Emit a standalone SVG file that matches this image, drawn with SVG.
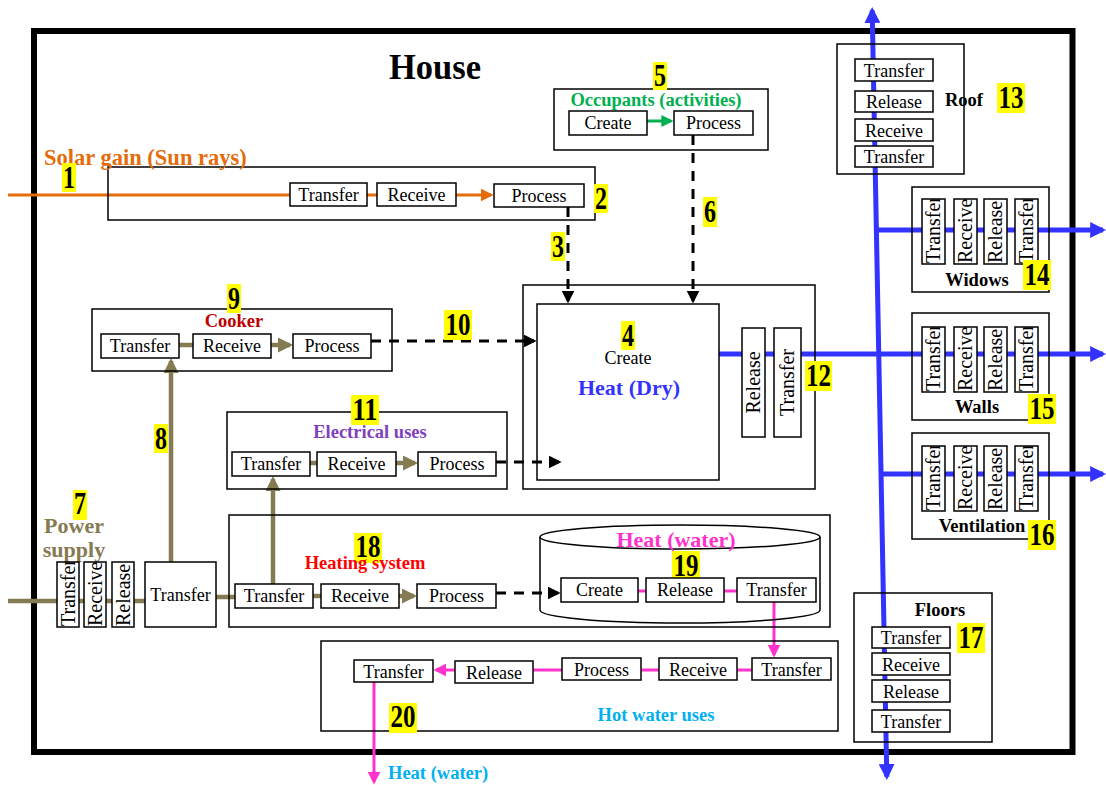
<svg xmlns="http://www.w3.org/2000/svg" width="1106" height="785" viewBox="0 0 1106 785">
  <style>
    text { font-family: "Liberation Serif", "DejaVu Serif", "Times New Roman", serif; }
    .lbl { font-family: "Liberation Serif", "DejaVu Serif", serif; font-size: 18px; text-anchor: middle; fill: #000; }
    .vl { font-family: "Liberation Serif", "DejaVu Serif", serif; font-size: 20px; fill: #000; }
    .hd { font-size: 18.5px; font-weight: bold; text-anchor: middle; }
    .n { font-size: 31px; font-weight: bold; text-anchor: middle; fill: #000; }
    .hl { fill: #ffff00; }
    .bx { fill: #fff; stroke: #000; stroke-width: 1.5; }
    .grp { fill: none; stroke: #000; stroke-width: 1.5; }
    .orange { stroke: #E46C0A; stroke-width: 3; fill: none; }
    .green { stroke: #00B050; stroke-width: 3; fill: none; }
    .olive { stroke: #857B52; stroke-width: 4.5; fill: none; }
    .dash { stroke: #000; stroke-width: 3; fill: none; stroke-dasharray: 10 8; }
    .blue { stroke: #3333FF; stroke-width: 5; fill: none; }
    .mag { stroke: #FF33CC; stroke-width: 3; fill: none; }
  </style>
  <defs>
    <marker id="a-orange" viewBox="0 0 10 10" refX="8" refY="5" markerWidth="13" markerHeight="13" markerUnits="userSpaceOnUse" orient="auto"><path d="M0,0L10,5L0,10z" fill="#E46C0A"/></marker>
    <marker id="a-green" viewBox="0 0 10 10" refX="8" refY="5" markerWidth="12" markerHeight="12" markerUnits="userSpaceOnUse" orient="auto"><path d="M0,0L10,5L0,10z" fill="#00B050"/></marker>
    <marker id="a-olive" viewBox="0 0 10 10" refX="8" refY="5" markerWidth="15" markerHeight="15" markerUnits="userSpaceOnUse" orient="auto"><path d="M0,0L10,5L0,10z" fill="#857B52"/></marker>
    <marker id="a-black" viewBox="0 0 10 10" refX="8" refY="5" markerWidth="13" markerHeight="13" markerUnits="userSpaceOnUse" orient="auto"><path d="M0,0L10,5L0,10z" fill="#000"/></marker>
    <marker id="a-blue" viewBox="0 0 10 10" refX="8" refY="5" markerWidth="16" markerHeight="16" markerUnits="userSpaceOnUse" orient="auto-start-reverse"><path d="M0,0L10,5L0,10z" fill="#3333FF"/></marker>
    <marker id="a-mag" viewBox="0 0 10 10" refX="8" refY="5" markerWidth="13" markerHeight="13" markerUnits="userSpaceOnUse" orient="auto"><path d="M0,0L10,5L0,10z" fill="#FF33CC"/></marker>
  </defs>

  <rect width="1106" height="785" fill="#fff"/>

  <!-- house outline and title -->
  <g id="house">
    <rect x="34" y="31" width="1038.5" height="721" fill="none" stroke="#000" stroke-width="6"/>
    <text x="435" y="79" font-size="36" font-weight="bold" text-anchor="middle" textLength="92" lengthAdjust="spacingAndGlyphs">House</text>
  </g>

  <!-- flows -->
  <g id="connectors">
    <!-- solar gain -->
    <path class="orange" d="M8,195H491" marker-end="url(#a-orange)"/>
    <!-- occupants -->
    <path class="green" d="M647,121H671" marker-end="url(#a-green)"/>
    <!-- power supply -->
    <path class="olive" d="M8,601H145"/>
    <path class="olive" d="M216,597H235"/>
    <path class="olive" d="M171,562V361" marker-end="url(#a-olive)"/>
    <path class="olive" d="M179,345H193"/>
    <path class="olive" d="M271,345H290" marker-end="url(#a-olive)"/>
    <path class="olive" d="M273,584V479" marker-end="url(#a-olive)"/>
    <path class="olive" d="M310,463H317"/>
    <path class="olive" d="M396,463H415" marker-end="url(#a-olive)"/>
    <path class="olive" d="M313,596H321"/>
    <path class="olive" d="M399,596H414" marker-end="url(#a-olive)"/>
    <!-- heat gains -->
    <path class="dash" d="M568,207V301" marker-end="url(#a-black)"/>
    <path class="dash" d="M693,135V301" marker-end="url(#a-black)"/>
    <path class="dash" d="M371,341H534" marker-end="url(#a-black)"/>
    <path class="dash" d="M496,462H559" marker-end="url(#a-black)"/>
    <path class="dash" d="M496,593H558" marker-end="url(#a-black)"/>
    <!-- dry heat losses -->
    <path class="blue" d="M872.2,10.2L886.8,776.8" marker-start="url(#a-blue)" marker-end="url(#a-blue)"/>
    <path class="blue" d="M719,354H1103" marker-end="url(#a-blue)"/>
    <path class="blue" d="M876,230H1103" marker-end="url(#a-blue)"/>
    <path class="blue" d="M881,474H1103" marker-end="url(#a-blue)"/>
    <!-- hot water -->
    <path class="mag" d="M638,591H646"/>
    <path class="mag" d="M724,591H737"/>
    <path class="mag" d="M774,602V655" marker-end="url(#a-mag)"/>
    <path class="mag" d="M752,670H436" marker-end="url(#a-mag)"/>
    <path class="mag" d="M374,682V782" marker-end="url(#a-mag)"/>
  </g>

  <!-- 1: solar gain -->
  <g id="solar">
    <rect class="grp" x="108" y="167" width="487" height="53"/>
    <text x="44" y="165" font-size="22.5" font-weight="bold" fill="#E46C0A">Solar gain (Sun rays)</text>
    <rect class="hl" x="62" y="163" width="14" height="29"/>
    <text class="n" x="69" y="188" textLength="12" lengthAdjust="spacingAndGlyphs">1</text>
    <rect class="bx" x="290" y="183" width="77" height="23"/>
    <text class="lbl" x="328.5" y="200.5">Transfer</text>
    <rect class="bx" x="377" y="183" width="79" height="23"/>
    <text class="lbl" x="416.5" y="200.5">Receive</text>
    <rect class="bx" x="494" y="184" width="90" height="23"/>
    <text class="lbl" x="539" y="201.5">Process</text>
    <rect class="hl" x="594" y="184" width="14" height="29"/>
    <text class="n" x="601" y="209" textLength="12" lengthAdjust="spacingAndGlyphs">2</text>
    <rect class="hl" x="551" y="232" width="14" height="29"/>
    <text class="n" x="558" y="257" textLength="12" lengthAdjust="spacingAndGlyphs">3</text>
  </g>

  <!-- 5: occupants -->
  <g id="occupants">
    <rect class="grp" x="554" y="89" width="214" height="61"/>
    <text class="hd" x="656" y="106" font-size="18" fill="#00B050">Occupants (activities)</text>
    <rect class="hl" x="653" y="62" width="14" height="28"/>
    <text class="n" x="660" y="86" textLength="12" lengthAdjust="spacingAndGlyphs">5</text>
    <rect class="bx" x="569" y="111" width="78" height="24"/>
    <text class="lbl" x="608" y="129">Create</text>
    <rect class="bx" x="674" y="111" width="79" height="24"/>
    <text class="lbl" x="713.5" y="129">Process</text>
    <rect class="hl" x="703" y="197" width="14" height="30"/>
    <text class="n" x="710" y="222" textLength="12" lengthAdjust="spacingAndGlyphs">6</text>
  </g>

  <!-- 4: dry heat -->
  <g id="heat-dry">
    <rect class="grp" x="523" y="285" width="292" height="204"/>
    <rect class="grp" x="537" y="304" width="182" height="176"/>
    <rect class="hl" x="621" y="321" width="14" height="29"/>
    <text class="n" x="628" y="346" textLength="12" lengthAdjust="spacingAndGlyphs">4</text>
    <text class="lbl" x="628" y="364">Create</text>
    <text x="629" y="395" font-size="22" font-weight="bold" text-anchor="middle" fill="#3333FF">Heat (Dry)</text>
    <rect class="bx" x="742" y="328" width="23" height="109"/>
    <text class="vl" text-anchor="middle" font-size="19" transform="translate(760,382.5) rotate(-90)">Release</text>
    <rect class="bx" x="774" y="328" width="27" height="109"/>
    <text class="vl" text-anchor="middle" font-size="19" transform="translate(794,382.5) rotate(-90)">Transfer</text>
    <rect class="hl" x="805" y="361" width="27" height="30"/>
    <text class="n" x="818.5" y="386" textLength="25" lengthAdjust="spacingAndGlyphs">12</text>
  </g>

  <!-- 13: roof -->
  <g id="roof">
    <rect class="grp" x="837" y="44" width="127" height="130"/>
    <rect class="bx" x="855" y="59" width="78" height="22"/>
    <text class="lbl" x="894" y="76.5">Transfer</text>
    <rect class="bx" x="855" y="91" width="78" height="21"/>
    <text class="lbl" x="894" y="108">Release</text>
    <rect class="bx" x="855" y="119" width="78" height="22"/>
    <text class="lbl" x="894" y="136.5">Receive</text>
    <rect class="bx" x="855" y="146" width="78" height="21"/>
    <text class="lbl" x="894" y="163">Transfer</text>
    <text class="hd" x="964" y="106">Roof</text>
    <rect class="hl" x="997" y="83" width="28" height="30"/>
    <text class="n" x="1011" y="108" textLength="25" lengthAdjust="spacingAndGlyphs">13</text>
  </g>

  <!-- 14: windows -->
  <g id="widows">
    <rect class="grp" x="912" y="187" width="137" height="105"/>
    <rect class="bx" x="922" y="199" width="23" height="65"/>
    <svg x="922" y="199" width="23" height="65"><text class="vl" transform="translate(18,64) rotate(-90)">Transfer</text></svg>
    <rect class="bx" x="954" y="199" width="23" height="65"/>
    <svg x="954" y="199" width="23" height="65"><text class="vl" transform="translate(18,64) rotate(-90)">Receive</text></svg>
    <rect class="bx" x="984" y="199" width="23" height="65"/>
    <svg x="984" y="199" width="23" height="65"><text class="vl" transform="translate(18,64) rotate(-90)">Release</text></svg>
    <rect class="bx" x="1015" y="199" width="23" height="65"/>
    <svg x="1015" y="199" width="23" height="65"><text class="vl" transform="translate(18,64) rotate(-90)">Transfer</text></svg>
    <text class="hd" x="977" y="286">Widows</text>
    <rect class="hl" x="1023" y="260" width="28" height="30"/>
    <text class="n" x="1037" y="285" textLength="25" lengthAdjust="spacingAndGlyphs">14</text>
  </g>

  <!-- 15: walls -->
  <g id="walls">
    <rect class="grp" x="912" y="313" width="137" height="107"/>
    <rect class="bx" x="922" y="327" width="23" height="65"/>
    <svg x="922" y="327" width="23" height="65"><text class="vl" transform="translate(18,64) rotate(-90)">Transfer</text></svg>
    <rect class="bx" x="954" y="327" width="23" height="65"/>
    <svg x="954" y="327" width="23" height="65"><text class="vl" transform="translate(18,64) rotate(-90)">Receive</text></svg>
    <rect class="bx" x="984" y="327" width="23" height="65"/>
    <svg x="984" y="327" width="23" height="65"><text class="vl" transform="translate(18,64) rotate(-90)">Release</text></svg>
    <rect class="bx" x="1015" y="327" width="23" height="65"/>
    <svg x="1015" y="327" width="23" height="65"><text class="vl" transform="translate(18,64) rotate(-90)">Transfer</text></svg>
    <text class="hd" x="977" y="413">Walls</text>
    <rect class="hl" x="1028" y="394" width="28" height="30"/>
    <text class="n" x="1042" y="419" textLength="25" lengthAdjust="spacingAndGlyphs">15</text>
  </g>

  <!-- 16: ventilation -->
  <g id="ventilation">
    <rect class="grp" x="912" y="433" width="137" height="106"/>
    <rect class="bx" x="922" y="446" width="23" height="65"/>
    <svg x="922" y="446" width="23" height="65"><text class="vl" transform="translate(18,64) rotate(-90)">Transfer</text></svg>
    <rect class="bx" x="954" y="446" width="23" height="65"/>
    <svg x="954" y="446" width="23" height="65"><text class="vl" transform="translate(18,64) rotate(-90)">Receive</text></svg>
    <rect class="bx" x="984" y="446" width="23" height="65"/>
    <svg x="984" y="446" width="23" height="65"><text class="vl" transform="translate(18,64) rotate(-90)">Release</text></svg>
    <rect class="bx" x="1015" y="446" width="23" height="65"/>
    <svg x="1015" y="446" width="23" height="65"><text class="vl" transform="translate(18,64) rotate(-90)">Transfer</text></svg>
    <text class="hd" x="982" y="532">Ventilation</text>
    <rect class="hl" x="1028" y="520" width="28" height="30"/>
    <text class="n" x="1042" y="545" textLength="25" lengthAdjust="spacingAndGlyphs">16</text>
  </g>

  <!-- 17: floors -->
  <g id="floors">
    <rect class="grp" x="854" y="593" width="138" height="149"/>
    <text class="hd" x="940" y="616">Floors</text>
    <rect class="bx" x="872" y="627" width="78" height="21"/>
    <text class="lbl" x="911" y="644">Transfer</text>
    <rect class="bx" x="872" y="653" width="78" height="22"/>
    <text class="lbl" x="911" y="670.5">Receive</text>
    <rect class="bx" x="872" y="680" width="78" height="22"/>
    <text class="lbl" x="911" y="697.5">Release</text>
    <rect class="bx" x="872" y="710" width="78" height="22"/>
    <text class="lbl" x="911" y="727.5">Transfer</text>
    <rect class="hl" x="957" y="623" width="28" height="30"/>
    <text class="n" x="971" y="648" textLength="25" lengthAdjust="spacingAndGlyphs">17</text>
  </g>

  <!-- 9: cooker -->
  <g id="cooker">
    <rect class="grp" x="92" y="309" width="300" height="62"/>
    <rect class="hl" x="227" y="284" width="14" height="29"/>
    <text class="n" x="234" y="309" textLength="12" lengthAdjust="spacingAndGlyphs">9</text>
    <text class="hd" x="234" y="327" fill="#C00000">Cooker</text>
    <rect class="bx" x="101" y="334" width="78" height="24"/>
    <text class="lbl" x="140" y="352">Transfer</text>
    <rect class="bx" x="193" y="334" width="78" height="24"/>
    <text class="lbl" x="232" y="352">Receive</text>
    <rect class="bx" x="293" y="334" width="78" height="24"/>
    <text class="lbl" x="332" y="352">Process</text>
    <rect class="hl" x="444" y="310" width="28" height="30"/>
    <text class="n" x="458" y="335" textLength="25" lengthAdjust="spacingAndGlyphs">10</text>
    <rect class="hl" x="154" y="424" width="14" height="29"/>
    <text class="n" x="161" y="449" textLength="12" lengthAdjust="spacingAndGlyphs">8</text>
  </g>

  <!-- 11: electrical uses -->
  <g id="electrical">
    <rect class="grp" x="227" y="412" width="280" height="77"/>
    <rect class="hl" x="351" y="395" width="28" height="30"/>
    <text class="n" x="365" y="420" textLength="25" lengthAdjust="spacingAndGlyphs">11</text>
    <text class="hd" x="370" y="438" fill="#7F40C0">Electrical uses</text>
    <rect class="bx" x="232" y="452" width="78" height="24"/>
    <text class="lbl" x="271" y="470">Transfer</text>
    <rect class="bx" x="317" y="452" width="79" height="24"/>
    <text class="lbl" x="356.5" y="470">Receive</text>
    <rect class="bx" x="418" y="452" width="78" height="24"/>
    <text class="lbl" x="457" y="470">Process</text>
  </g>

  <!-- 7: power supply -->
  <g id="power">
    <rect class="hl" x="73" y="490" width="14" height="30"/>
    <text class="n" x="80" y="514" textLength="12" lengthAdjust="spacingAndGlyphs">7</text>
    <text x="74" y="533" font-size="22" font-weight="bold" text-anchor="middle" fill="#857B52">Power</text>
    <text x="74" y="557" font-size="22" font-weight="bold" text-anchor="middle" fill="#857B52">supply</text>
    <rect class="bx" x="57" y="562" width="22" height="65"/>
    <svg x="57" y="562" width="22" height="65"><text class="vl" transform="translate(17.5,64) rotate(-90)">Transfer</text></svg>
    <rect class="bx" x="84" y="562" width="22" height="65"/>
    <svg x="84" y="562" width="22" height="65"><text class="vl" transform="translate(17.5,64) rotate(-90)">Receive</text></svg>
    <rect class="bx" x="112" y="562" width="22" height="65"/>
    <svg x="112" y="562" width="22" height="65"><text class="vl" transform="translate(17.5,64) rotate(-90)">Release</text></svg>
    <rect class="bx" x="145" y="562" width="71" height="65"/>
    <text class="lbl" x="180.5" y="601">Transfer</text>
  </g>

  <!-- 18: heating system -->
  <g id="heating">
    <rect class="grp" x="229" y="515" width="601" height="112"/>
    <rect class="hl" x="354" y="533" width="28" height="30"/>
    <text class="n" x="368" y="557" textLength="25" lengthAdjust="spacingAndGlyphs">18</text>
    <text class="hd" x="365" y="569" fill="#FF0000">Heating system</text>
    <rect class="bx" x="235" y="584" width="78" height="24"/>
    <text class="lbl" x="274" y="602">Transfer</text>
    <rect class="bx" x="321" y="584" width="78" height="24"/>
    <text class="lbl" x="360" y="602">Receive</text>
    <rect class="bx" x="417" y="584" width="79" height="24"/>
    <text class="lbl" x="456.5" y="602">Process</text>
  </g>

  <!-- 19: hot water storage -->
  <g id="heat-water">
    <ellipse cx="680" cy="537" rx="140" ry="12" fill="none" stroke="#000" stroke-width="1.5"/>
    <path d="M540,537V610A140,13 0 0 0 820,610V537" fill="none" stroke="#000" stroke-width="1.5"/>
    <text x="676" y="547" font-size="22" font-weight="bold" text-anchor="middle" fill="#FF33CC">Heat (water)</text>
    <rect class="hl" x="672" y="551" width="28" height="30"/>
    <text class="n" x="686" y="576" textLength="25" lengthAdjust="spacingAndGlyphs">19</text>
    <rect class="bx" x="561" y="578" width="77" height="24"/>
    <text class="lbl" x="599.5" y="596">Create</text>
    <rect class="bx" x="646" y="578" width="78" height="24"/>
    <text class="lbl" x="685" y="596">Release</text>
    <rect class="bx" x="737" y="578" width="79" height="24"/>
    <text class="lbl" x="776.5" y="596">Transfer</text>
  </g>

  <!-- 20: hot water uses -->
  <g id="hot-water-uses">
    <rect class="grp" x="321" y="641" width="517" height="90"/>
    <rect class="bx" x="354" y="660" width="79" height="22"/>
    <text class="lbl" x="393.5" y="677.5">Transfer</text>
    <rect class="bx" x="455" y="661" width="78" height="22"/>
    <text class="lbl" x="494" y="678.5">Release</text>
    <rect class="bx" x="562" y="658" width="79" height="22"/>
    <text class="lbl" x="601.5" y="675.5">Process</text>
    <rect class="bx" x="659" y="658" width="78" height="22"/>
    <text class="lbl" x="698" y="675.5">Receive</text>
    <rect class="bx" x="752" y="658" width="79" height="22"/>
    <text class="lbl" x="791.5" y="675.5">Transfer</text>
    <rect class="hl" x="389" y="703" width="28" height="30"/>
    <text class="n" x="403" y="727" textLength="25" lengthAdjust="spacingAndGlyphs">20</text>
    <text class="hd" x="656" y="721" fill="#00B0F0">Hot water uses</text>
    <text x="388" y="779" font-size="18.5" font-weight="bold" fill="#00B0F0">Heat (water)</text>
  </g>
</svg>
